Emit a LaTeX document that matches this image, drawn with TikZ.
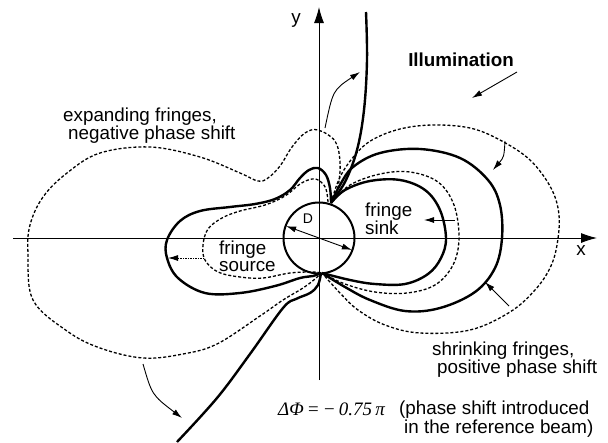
\documentclass[tikz,border=0pt]{standalone}
\usepackage{fontspec}
\setmainfont{Liberation Sans}
\newfontfamily\timesfont{Liberation Serif}
\usetikzlibrary{arrows.meta}

\begin{document}
\begin{tikzpicture}[x=1pt,y=-1pt,>={Latex[length=10pt,width=6pt]},
  fringeline/.style={line width=2.4pt},
  fringedash/.style={line width=1.3pt,dash pattern=on 3pt off 2pt},
  axisline/.style={line width=0.9pt},
  pointer/.style={->,line width=0.9pt},
  txt/.style={font=\fontsize{18.8}{18}\selectfont,inner sep=0pt}]
\useasboundingbox (0,0) rectangle (608,442);
% axes and aperture
\coordinate (xfrom) at (13,238);
\coordinate (xto) at (597,238);
\coordinate (yfrom) at (319,380);
\coordinate (yto) at (319,7);
\draw[axisline,-{Latex[length=16pt,width=10pt]}] (xfrom) -- (xto);
\draw[axisline,-{Latex[length=16pt,width=10pt]}] (yfrom) -- (yto);
\node[txt] (xlab) at (581,251) {x};
\node[txt] (ylab) at (296,20) {y};
\node[circle,draw,line width=2pt,minimum size=71pt,inner sep=0pt] (disk) at (319,238) {};
\draw[<->,line width=0.9pt,shorten <=1.5pt,shorten >=1.5pt] (disk.160) -- (disk.-20);
\node[font=\fontsize{14}{14}\selectfont,inner sep=0pt] (dlab) at (308,219) {D};
% fringe contours
\draw[fringeline] plot[smooth,tension=0.6] coordinates {(366,12) (367,60) (364,110) (357,150) (345,182) (331,202)};
\draw[fringeline] plot[smooth,tension=0.6] coordinates {(321,273) (318,285) (310,293) (296,299) (283,308) (250,354) (217,398) (177,442)};
\draw[fringedash] plot[smooth,tension=0.6] coordinates {(331,202) (338,187) (340,162) (335,141) (318,130) (305,133) (292,147) (280,166) (268,178) (258,181) (240,173) (200,157) (150,147) (100,153) (67,173) (43,197) (30,225) (28,254) (33,300) (67,331) (100,348) (143,358) (183,354) (217,344) (260,316) (283,300) (303,288) (315,279) (321,273)};
\draw[fringeline] plot[smooth,tension=0.6] coordinates {(331,202) (330,188) (326,175) (318,168) (309,170) (300,178) (290,190) (275,199) (255,204) (230,207) (200,211) (180,221) (167,240) (167,258) (178,278) (205,293) (240,293) (275,286) (300,278) (313,276) (321,273)};
\draw[fringedash] plot[smooth,tension=0.6] coordinates {(328,202) (326,189) (320,181) (312,179) (300,184) (285,196) (265,205) (240,211) (222,218) (208,229) (203,245) (205,260) (218,272) (240,277) (263,278) (290,273) (313,272) (321,273)};
\draw[fringeline] plot[smooth,tension=0.6] coordinates {(331,203) (345,190) (370,181) (400,180) (425,190) (440,210) (446,238) (441,258) (428,274) (405,284) (375,284) (350,280) (322,273)};
\draw[fringedash] plot[smooth,tension=0.6] coordinates {(331,203) (350,185) (380,174) (410,172) (438,182) (454,205) (459,238) (453,265) (435,285) (407,293) (375,292) (345,284) (322,273)};
\draw[fringeline] plot[smooth,tension=0.6] coordinates {(331,203) (340,185) (353,167) (380,153) (420,149) (460,158) (488,180) (500,205) (502,238) (495,268) (475,292) (440,308) (405,311) (370,300) (345,287) (322,273)};
\draw[fringedash] plot[smooth,tension=0.6] coordinates {(331,203) (340,177) (355,155) (372,140) (400,129) (433,125) (470,128) (500,140) (530,160) (551,188) (559,215) (557,245) (550,268) (535,290) (510,312) (470,330) (420,333) (385,325) (358,310) (340,293) (322,273)};
% motion pointers
\coordinate (srcA) at (204,258);
\coordinate (srcB) at (168,258);
\coordinate (snkA) at (455,220);
\coordinate (snkB) at (424,220);
\coordinate (trA) at (505,141);
\coordinate (trB) at (493,170);
\coordinate (brA) at (509,306);
\coordinate (brB) at (485,282);
\coordinate (upA) at (325,128);
\coordinate (upB) at (360,72);
\coordinate (lwA) at (143,364);
\coordinate (lwB) at (182,418);
\coordinate (ilA) at (517,72);
\coordinate (ilB) at (472,98);
\draw[pointer,dash pattern=on 1.5pt off 1pt] (srcA) -- (srcB);
\draw[pointer] (snkA) -- (snkB);
\draw[pointer] (trA) .. controls (504,157) .. (trB);
\draw[pointer] (brA) -- (brB);
\draw[pointer] (upA) .. controls (333,90) .. (upB);
\draw[pointer] (lwA) .. controls (152,395) .. (lwB);
\draw[pointer] (ilA) -- (ilB);
% labels
\node[txt,font=\fontsize{18.8}{18}\selectfont\bfseries] (illum) at (461,60) {Illumination};
\node[txt,align=left,anchor=west] (expand) at (63,126) {expanding fringes,\\\hspace*{5pt}negative phase shift};
\node[txt,align=left,anchor=west] (shrink) at (432,360) {shrinking fringes,\\\hspace*{5pt}positive phase shift};
\node[txt,align=left,anchor=west,font=\fontsize{18.8}{17}\selectfont] (sink) at (365,219) {fringe\\sink};
\node[txt,align=left,anchor=west,font=\fontsize{18.8}{17}\selectfont] (source) at (219,256) {fringe\\source};
\node[inner sep=0pt,anchor=west,font=\fontsize{19}{19}\selectfont\timesfont\itshape] (dphi) at (278,409) {ΔΦ\,=\,−\,0.75\,π};
\node[txt,align=left,anchor=west,font=\fontsize{18.8}{19.5}\selectfont] (note) at (399,419) {(phase shift introduced\\\hspace*{5pt}in the reference beam)};
\end{tikzpicture}
\end{document}
